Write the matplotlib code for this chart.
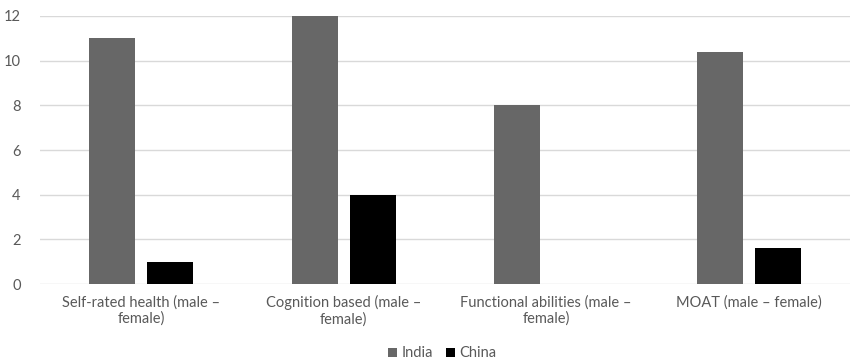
import numpy as np
import matplotlib.pyplot as plt

categories = ["Self-rated health (male \u2013\nfemale)", "Cognition based (male \u2013\nfemale)",
              "Functional abilities (male \u2013\nfemale)", "MOAT (male \u2013 female)"]
india = [11, 12, 8, 10.4]
china = [1, 4, 0, 1.6]

plt.rcParams['font.family'] = ['Lato', 'DejaVu Sans']

fig = plt.figure(figsize=(8.55, 3.62), dpi=100)
ax = fig.add_axes([0.047, 0.215, 0.947, 0.741])

x = np.arange(len(categories))
w = 0.227
gap = 0.06
ax.bar(x - (w + gap) / 2, india, w, color='#676767', label='India', zorder=3)
ax.bar(x + (w + gap) / 2, china, w, color='#000000', label='China', zorder=3)

ax.set_xlim(-0.5, len(categories) - 0.5)
ax.set_ylim(0, 12)
ax.set_yticks(np.arange(0, 13, 2))
ax.yaxis.grid(True, color='#d9d9d9', linewidth=1)
ax.set_axisbelow(True)
for s in ax.spines.values():
    s.set_visible(False)
ax.tick_params(length=0, colors='#595959', labelsize=10.5)
ax.tick_params(axis='y', pad=14)
ax.set_xticks(x)
ax.set_xticklabels(categories, linespacing=1.15)
ax.tick_params(axis='x', pad=8)

fig.legend(loc='lower center', bbox_to_anchor=(0.517, -0.032), ncol=2, frameon=False,
           fontsize=10.5, labelcolor='#595959', handlelength=0.6, handleheight=0.6,
           handletextpad=0.3, columnspacing=0.9)

fig.savefig('out.png', dpi=100)
